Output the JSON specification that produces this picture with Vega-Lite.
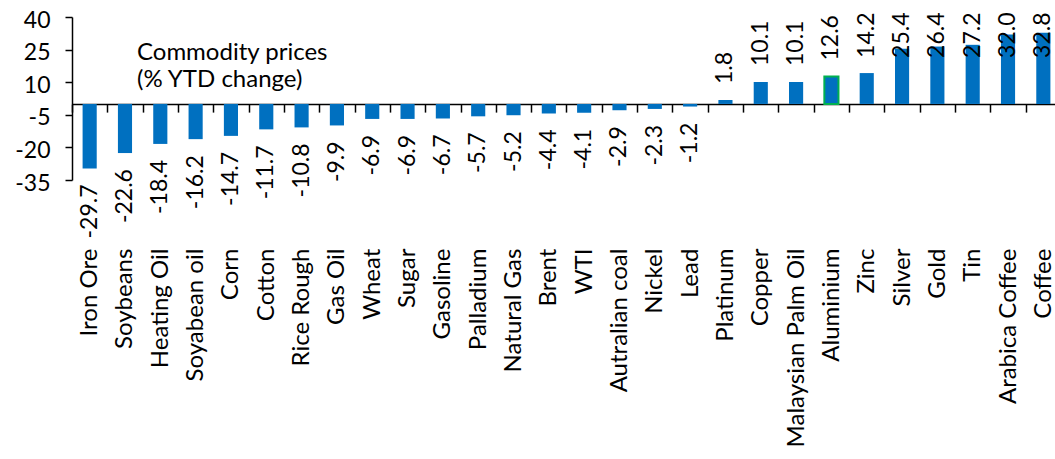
{
  "$schema": "https://vega.github.io/schema/vega-lite/v6.json",
  "autosize": {"type": "none"},
  "padding": {"left": 72, "top": 17, "right": 0, "bottom": 279},
  "width": 983,
  "height": 163,
  "background": "white",
  "config": {
    "view": {"stroke": null},
    "font": "Lato",
    "locale": {
      "number": {"decimal": ".", "thousands": ",", "grouping": [3], "currency": ["$", ""], "minus": "-"}
    },
    "text": {"font": "Lato", "fontSize": 23, "color": "#000000"}
  },
  "data": {
    "values": [
      {"name": "Iron Ore", "value": -29.7},
      {"name": "Soybeans", "value": -22.6},
      {"name": "Heating Oil", "value": -18.4},
      {"name": "Soyabean oil", "value": -16.2},
      {"name": "Corn", "value": -14.7},
      {"name": "Cotton", "value": -11.7},
      {"name": "Rice Rough", "value": -10.8},
      {"name": "Gas Oil", "value": -9.9},
      {"name": "Wheat", "value": -6.9},
      {"name": "Sugar", "value": -6.9},
      {"name": "Gasoline", "value": -6.7},
      {"name": "Palladium", "value": -5.7},
      {"name": "Natural Gas", "value": -5.2},
      {"name": "Brent", "value": -4.4},
      {"name": "WTI", "value": -4.1},
      {"name": "Autralian coal", "value": -2.9},
      {"name": "Nickel", "value": -2.3},
      {"name": "Lead", "value": -1.2},
      {"name": "Platinum", "value": 1.8},
      {"name": "Copper", "value": 10.1},
      {"name": "Malaysian Palm Oil", "value": 10.1},
      {"name": "Aluminium", "value": 12.6},
      {"name": "Zinc", "value": 14.2},
      {"name": "Silver", "value": 25.4},
      {"name": "Gold", "value": 26.4},
      {"name": "Tin", "value": 27.2},
      {"name": "Arabica Coffee", "value": 32.0},
      {"name": "Coffee", "value": 32.8}
    ]
  },
  "encoding": {
    "x": {
      "field": "name",
      "type": "nominal",
      "sort": null,
      "scale": {"paddingInner": 0, "paddingOuter": 0, "range": [0, 989]},
      "axis": {
        "title": null,
        "orient": "bottom",
        "offset": -75.9,
        "domain": true,
        "domainColor": "#000000",
        "domainWidth": 1.5,
        "ticks": true,
        "tickBand": "extent",
        "tickSize": 8,
        "tickColor": "#000000",
        "tickWidth": 1.5,
        "labelAngle": 270,
        "labelAlign": "right",
        "labelBaseline": "middle",
        "labelPadding": 136,
        "labelFont": "Lato",
        "labelFontSize": 24,
        "labelColor": "#000000",
        "labelLimit": 400,
        "labelOverlap": false
      }
    },
    "y": {
      "field": "value",
      "type": "quantitative",
      "scale": {"domain": [-35, 40], "nice": false, "zero": false},
      "axis": {
        "title": null,
        "grid": false,
        "values": [-35, -20, -5, 10, 25, 40],
        "domainColor": "#000000",
        "domainWidth": 1.5,
        "tickColor": "#000000",
        "tickWidth": 1.5,
        "tickSize": 7,
        "labelPadding": 15,
        "labelOffset": 3,
        "labelFont": "Lato",
        "labelFontSize": 23,
        "labelColor": "#000000"
      }
    }
  },
  "layer": [
    {
      "mark": {"type": "bar", "width": {"band": 0.4}, "color": "#0070C0", "strokeWidth": 2},
      "encoding": {
        "stroke": {
          "condition": {"test": "datum.name === 'Aluminium'", "value": "#00B050"},
          "value": null
        }
      }
    },
    {
      "transform": [{"filter": "datum.value > 0 && datum.value < 14"}],
      "mark": {"type": "text", "angle": 270, "align": "left", "baseline": "middle", "dx": 16},
      "encoding": {"text": {"field": "value", "type": "quantitative", "format": ".1f"}}
    },
    {
      "transform": [{"filter": "datum.value >= 14"}],
      "mark": {"type": "text", "angle": 270, "align": "left", "baseline": "middle", "dx": 16},
      "encoding": {
        "y": {"datum": 13.8, "type": "quantitative"},
        "text": {"field": "value", "type": "quantitative", "format": ".1f"}
      }
    },
    {
      "transform": [{"filter": "datum.value < 0"}],
      "mark": {"type": "text", "angle": 270, "align": "right", "baseline": "middle", "dx": -16},
      "encoding": {"text": {"field": "value", "type": "quantitative", "format": ".1f"}}
    },
    {
      "transform": [{"filter": "datum.name === 'Soybeans'"}],
      "mark": {"type": "text", "align": "left", "baseline": "alphabetic", "lineHeight": 27, "dx": 12, "fontSize": 24},
      "encoding": {
        "y": {"datum": 20.3, "type": "quantitative"},
        "text": {"value": ["Commodity prices", "(% YTD change)"]}
      }
    }
  ]
}
